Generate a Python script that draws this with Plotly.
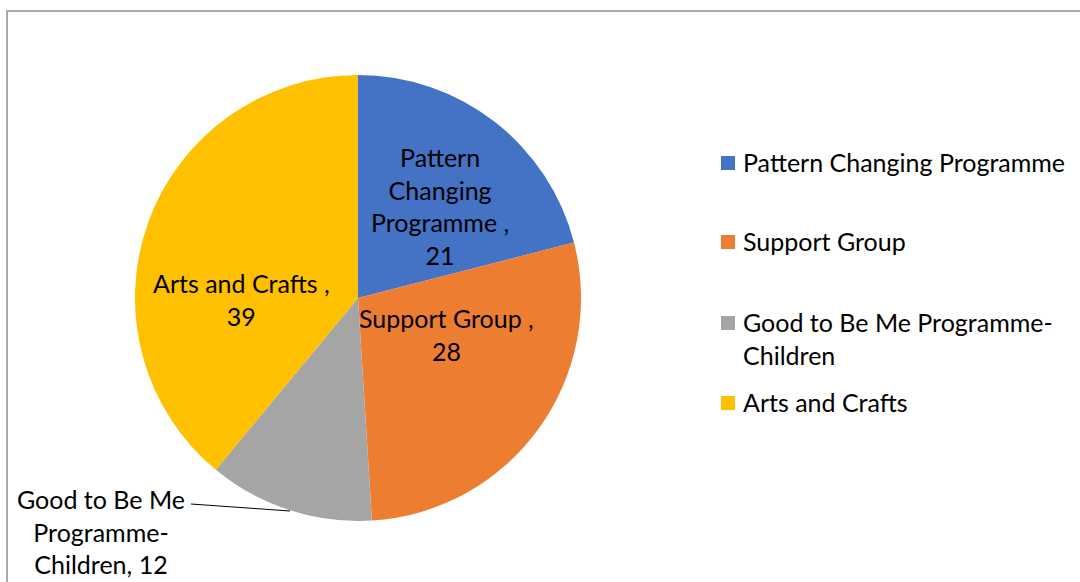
import plotly.graph_objects as go

categories = ["Pattern Changing Programme", "Support Group",
              "Good to Be Me Programme-Children", "Arts and Crafts"]
values = [21, 28, 12, 39]
colors = ["#4472C4", "#ED7D31", "#A5A5A5", "#FFC000"]
legend_text = ["Pattern Changing Programme", "Support Group",
               "Good to Be Me Programme-<br>Children", "Arts and Crafts"]
slice_text = ["Pattern<br>Changing<br>Programme ,<br>{v}",
              "Support Group ,<br>{v}",
              "Good to Be Me<br>Programme-<br>Children, {v}",
              "Arts and Crafts ,<br>{v}"]

W, H = 1080, 582
FONT = "Lato"
FS = 25

# pie placement (pixels)
cx, cy, R = 358, 298, 223

fig = go.Figure()
fig.add_trace(go.Pie(
    labels=categories, values=values, sort=False, direction="clockwise",
    rotation=0, marker=dict(colors=colors, line=dict(width=0)),
    textinfo="none", hoverinfo="label+value", showlegend=False,
    domain=dict(x=[(cx - R) / W, (cx + R) / W], y=[1 - (cy + R) / H, 1 - (cy - R) / H]),
))

# data label placement (pixel centers)
label_pos = [(440, 206), (447, 334), (101, 531), (241, 299)]
annotations = []
for txt, v, (px, py) in zip(slice_text, values, label_pos):
    annotations.append(dict(
        x=px / W, y=1 - py / H, xref="paper", yref="paper",
        text=txt.format(v=v), showarrow=False, align="center",
        font=dict(family=FONT, size=FS, color="#000000"),
        xanchor="center", yanchor="middle"))

# legend (manual, for Excel-like spacing)
leg_y = [162, 241, 338, 402]
shapes = []
for lt, col, ly in zip(legend_text, colors, leg_y):
    sy = ly + 1 if "<br>" not in lt else ly - 15
    shapes.append(dict(type="rect", xref="paper", yref="paper",
                       x0=721 / W, x1=735 / W, y0=1 - (sy + 7) / H, y1=1 - (sy - 7) / H,
                       fillcolor=col, line=dict(width=0)))
    annotations.append(dict(
        x=741 / W, y=1 - ly / H, xref="paper", yref="paper", text=lt,
        showarrow=False, align="left", xanchor="left", yanchor="middle",
        font=dict(family=FONT, size=FS, color="#000000")))

# leader line for small slice
shapes.append(dict(type="line", xref="paper", yref="paper",
                   x0=191 / W, y0=1 - 504 / H, x1=290 / W, y1=1 - 511 / H,
                   line=dict(color="#000000", width=1)))
# chart border
shapes.append(dict(type="rect", xref="paper", yref="paper",
                   x0=7 / W, y0=-0.05, x1=1.05, y1=1 - 11 / H,
                   line=dict(color="#AAAAAA", width=2), fillcolor="rgba(0,0,0,0)"))

fig.update_layout(width=W, height=H, margin=dict(l=0, r=0, t=0, b=0),
                  paper_bgcolor="white", plot_bgcolor="white",
                  annotations=annotations, shapes=shapes)
fig.write_html("out.html")
